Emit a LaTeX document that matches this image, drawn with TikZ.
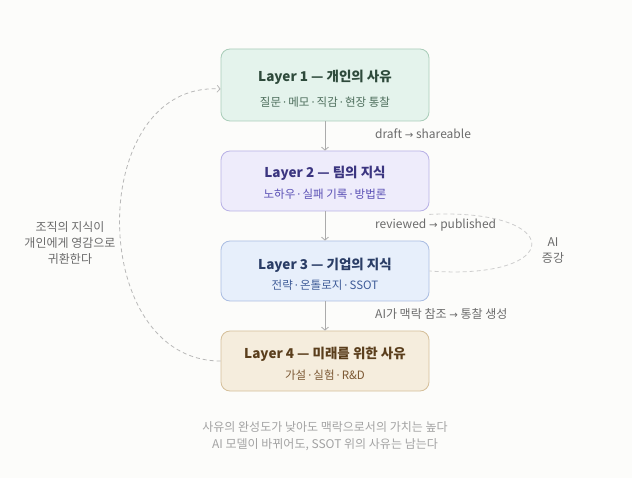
\documentclass[tikz,border=0pt]{standalone}
\usepackage{fontspec}
\setmainfont{Noto Sans CJK KR}
\newfontfamily\latinfont{Noto Sans}
\newfontfamily\symfont{DejaVu Sans}
\newcommand{\sep}{\hspace{0.18em}{\latinfont\textperiodcentered}\hspace{0.18em}}
\newcommand{\ar}{{\symfont\scalebox{0.85}{→}}}
\usetikzlibrary{arrows.meta}
\definecolor{bgcol}{HTML}{FCFCFA}
\definecolor{lineg}{HTML}{ABABAB}
\definecolor{textg}{HTML}{6B6B6B}
\definecolor{fillA}{HTML}{E4F3EC}\definecolor{drawA}{HTML}{A9CDB9}
\definecolor{headA}{HTML}{2E4A3B}\definecolor{subA}{HTML}{4D6E5C}
\definecolor{fillB}{HTML}{EEECFB}\definecolor{drawB}{HTML}{B8B1E6}
\definecolor{headB}{HTML}{3B3580}\definecolor{subB}{HTML}{5A50B5}
\definecolor{fillC}{HTML}{E7EFFB}\definecolor{drawC}{HTML}{AABDE2}
\definecolor{headC}{HTML}{2A3D66}\definecolor{subC}{HTML}{3F5C98}
\definecolor{fillD}{HTML}{F5EDDD}\definecolor{drawD}{HTML}{D5BF9A}
\definecolor{headD}{HTML}{5A3E1C}\definecolor{subD}{HTML}{7B5732}
\begin{document}
\begin{tikzpicture}[x=1pt,y=-1pt,
    layerbox/.style={draw,rounded corners=9pt,line width=0.8pt,minimum width=208pt,inner sep=0pt},
    head/.style={font=\bfseries\fontsize{13.5}{15}\selectfont,inner sep=0pt},
    sub/.style={font=\fontsize{11.5}{13}\selectfont,inner sep=0pt},
    note/.style={font=\fontsize{12}{14}\selectfont,text=textg,inner sep=0pt},
    flow/.style={draw=lineg,line width=0.8pt,-{Straight Barb[length=3pt,width=7pt]}},
    loop/.style={draw=lineg,line width=0.8pt,dashed,dash pattern=on 4pt off 3pt}]
    \fill[bgcol] (0,0) rectangle (632,478);
    \useasboundingbox (0,0) rectangle (632,478);
    % layers
    \node[layerbox,fill=fillA,draw=drawA,minimum height=72pt] (l1) at (325,85) {};
    \node[layerbox,fill=fillB,draw=drawB,minimum height=60pt] (l2) at (325,181) {};
    \node[layerbox,fill=fillC,draw=drawC,minimum height=60pt] (l3) at (325,271) {};
    \node[layerbox,fill=fillD,draw=drawD,minimum height=60pt] (l4) at (325,361) {};
    \node[head,text=headA] (h1) at (325,77) {Layer 1 — 개인의 사유};
    \node[sub,text=subA] (s1) at (325,102) {질문\sep 메모\sep 직감\sep 현장 통찰};
    \node[head,text=headB] (h2) at (325,173) {Layer 2 — 팀의 지식};
    \node[sub,text=subB] (s2) at (325,194) {노하우\sep 실패 기록\sep 방법론};
    \node[head,text=headC] (h3) at (325,265) {Layer 3 — 기업의 지식};
    \node[sub,text=subC] (s3) at (325,285) {전략\sep 온톨로지\sep SSOT};
    \node[head,text=headD] (h4) at (325,354) {Layer 4 — 미래를 위한 사유};
    \node[sub,text=subD] (s4) at (325,375) {가설\sep 실험\sep R\&D};
    % flow down
    \draw[flow] (l1) -- (l2);
    \draw[flow] (l2) -- (l3);
    \draw[flow] (l3) -- (l4);
    \node[note,anchor=west] (t12) at (375,134) {draft \ar{} shareable};
    \node[note,anchor=west] (t23) at (375,225) {reviewed \ar{} published};
    \node[note,anchor=west] (t34) at (375,314) {AI가 맥락 참조 \ar{} 통찰 생성};
    % AI loop
    \coordinate (a2) at (l2.south east);
    \draw[loop,lineg!60] ([yshift=-3pt]a2) .. controls (566,208) and (566,281) .. (l3.east);
    \node[note,align=center,font=\fontsize{12}{16}\selectfont] (ai) at (553,251) {AI\\증강};
    % return loop
    \draw[loop,lineg!85,-{Straight Barb[length=3pt,width=7pt]}] (l4.west) .. controls (86,361) and (86,81) .. ([yshift=-4pt]l1.west);
    \node[note,align=center,font=\fontsize{12}{16}\selectfont] (back) at (70,243) {조직의 지식이\\개인에게 영감으로\\귀환한다};
    % footer
    \node[note,align=center,text=lineg!110,font=\fontsize{12}{17}\selectfont] (foot) at (325,436) {사유의 완성도가 낮아도 맥락으로서의 가치는 높다\\AI 모델이 바뀌어도, SSOT 위의 사유는 남는다};
\end{tikzpicture}
\end{document}
